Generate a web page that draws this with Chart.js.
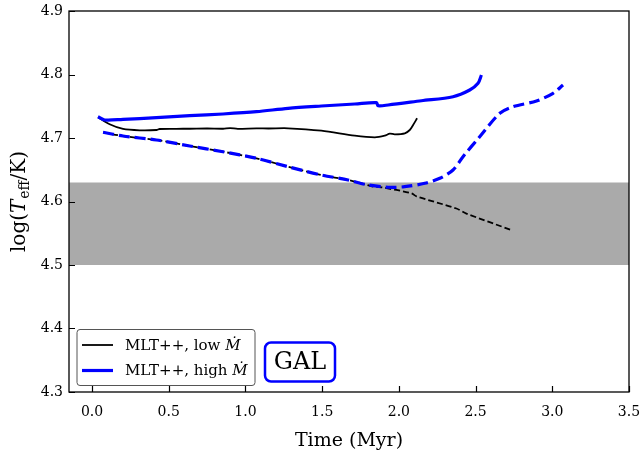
<!DOCTYPE html>
<html>
<head>
<meta charset="utf-8">
<script src="https://cdn.jsdelivr.net/npm/chart.js@4/dist/chart.umd.min.js"></script>
<style>
  html, body { margin: 0; padding: 0; background: #fff; }
  #wrap { width: 641px; height: 454px; position: relative; }
</style>
</head>
<body>
<div id="wrap"><canvas id="c" width="641" height="454"></canvas></div>
<script>
// ---- Data ----
const xTicks = [0.0, 0.5, 1.0, 1.5, 2.0, 2.5, 3.0, 3.5];
const yTicks = [4.3, 4.4, 4.5, 4.6, 4.7, 4.8, 4.9];
const xRange = [-0.15, 3.5];
const yRange = [4.3, 4.9];
const bandRange = [4.5, 4.63];

// MLT++, low Mdot (solid black)
const lowTime = [0.039, 0.115, 0.202, 0.311, 0.42, 0.441, 0.55, 0.637, 0.75, 0.854, 0.9, 0.95, 1.072, 1.15, 1.278, 1.495, 1.713, 1.843, 1.908, 1.941, 1.973, 2.039, 2.071, 2.093, 2.119];
const lowLogT = [4.7326, 4.7216, 4.7142, 4.7121, 4.7126, 4.7142, 4.7145, 4.7146, 4.7150, 4.7146, 4.7156, 4.7145, 4.7153, 4.7150, 4.7153, 4.7115, 4.7036, 4.7011, 4.7036, 4.7068, 4.7058, 4.7074, 4.7126, 4.7205, 4.731];

// MLT++, high Mdot (solid blue)
const highTime = [0.039, 0.083, 0.202, 0.42, 0.637, 0.854, 1.072, 1.278, 1.495, 1.713, 1.854, 1.864, 1.93, 2.147, 2.353, 2.462, 2.516, 2.538];
const highLogT = [4.7335, 4.7283, 4.7294, 4.7320, 4.7351, 4.7378, 4.7414, 4.7468, 4.7504, 4.7535, 4.7556, 4.7509, 4.7520, 4.7587, 4.7650, 4.7756, 4.7861, 4.7992];

// low Mdot, dashed black
const lowDashTime = [0.072, 0.202, 0.42, 0.637, 0.854, 1.072, 1.278, 1.495, 1.669, 1.778, 1.832, 1.887, 2.082, 2.115, 2.375, 2.44, 2.734];
const lowDashLogT = [4.7090, 4.7031, 4.6969, 4.6874, 4.6784, 4.6680, 4.6548, 4.6417, 4.6339, 4.6271, 4.6235, 4.6224, 4.6129, 4.608, 4.589, 4.581, 4.555];

// high Mdot, dashed blue
const highDashTime = [0.072, 0.202, 0.42, 0.637, 0.854, 1.072, 1.278, 1.495, 1.669, 1.778, 1.93, 2.038, 2.169, 2.267, 2.353, 2.418, 2.527, 2.658, 2.745, 2.897, 3.005, 3.07];
const highDashLogT = [4.7090, 4.7031, 4.6969, 4.6874, 4.6784, 4.6680, 4.6548, 4.6417, 4.6339, 4.6271, 4.6224, 4.6233, 4.6287, 4.6365, 4.6496, 4.6706, 4.7020, 4.7389, 4.7493, 4.7583, 4.7704, 4.7835];

const legendLabels = ['MLT++, low ', 'MLT++, high '];
const boxLabel = 'GAL';

const BLUE = '#0000ff';
const FONT = "'DejaVu Serif', 'Liberation Serif', serif";

function pts(xs, ys) { return xs.map((x, i) => ({ x: x, y: ys[i] })); }

Chart.defaults.font.family = FONT;
Chart.defaults.color = '#000';

const overlay = {
  id: 'overlay',
  afterDraw(chart) {
    const ctx = chart.ctx;
    const a = chart.chartArea;
    const xs = chart.scales.x, ys = chart.scales.y;
    ctx.save();
    // frame
    ctx.strokeStyle = '#000';
    ctx.lineWidth = 1.3;
    ctx.strokeRect(a.left, a.top, a.right - a.left, a.bottom - a.top);
    // inward ticks
    ctx.lineWidth = 1.2;
    ctx.beginPath();
    xTicks.forEach(v => {
      const px = Math.round(xs.getPixelForValue(v)) + 0.5;
      ctx.moveTo(px, a.bottom); ctx.lineTo(px, a.bottom - 6);
    });
    yTicks.forEach(v => {
      const py = Math.round(ys.getPixelForValue(v)) + 0.5;
      ctx.moveTo(a.left, py); ctx.lineTo(a.left + 6, py);
    });
    ctx.stroke();

    // x title
    ctx.fillStyle = '#000';
    ctx.font = '19px ' + FONT;
    ctx.textAlign = 'center';
    ctx.textBaseline = 'alphabetic';
    ctx.fillText('Time (Myr)', (a.left + a.right) / 2, 446);

    // y title: log(T_eff/K)
    ctx.save();
    ctx.translate(25, (a.top + a.bottom) / 2);
    ctx.rotate(-Math.PI / 2);
    const fN = '20px ' + FONT, fI = 'italic 20px ' + FONT, fS = '14px ' + FONT;
    const parts = [['log(', fN, 0], ['T', fI, 0], ['eff', fS, 4], ['/K)', fN, 0]];
    let total = 0;
    parts.forEach(p => { ctx.font = p[1]; total += ctx.measureText(p[0]).width; });
    total += 1;
    let cx = -total / 2;
    ctx.textAlign = 'left';
    parts.forEach((p, i) => {
      ctx.font = p[1];
      ctx.fillText(p[0], cx, p[2]);
      cx += ctx.measureText(p[0]).width + (i === 1 ? 1 : 0);
    });
    ctx.restore();

    // legend box
    function rrect(x, y, w, h, r) {
      ctx.beginPath();
      ctx.moveTo(x + r, y);
      ctx.arcTo(x + w, y, x + w, y + h, r);
      ctx.arcTo(x + w, y + h, x, y + h, r);
      ctx.arcTo(x, y + h, x, y, r);
      ctx.arcTo(x, y, x + w, y, r);
      ctx.closePath();
    }
    rrect(77, 329.5, 178, 56, 3);
    ctx.fillStyle = 'rgba(255,255,255,0.8)';
    ctx.fill();
    ctx.strokeStyle = '#555';
    ctx.lineWidth = 1;
    ctx.stroke();
    const rows = [[345, '#000', 1.8], [370.5, BLUE, 3.2]];
    rows.forEach((r, i) => {
      ctx.strokeStyle = r[1];
      ctx.lineWidth = r[2];
      ctx.beginPath();
      ctx.moveTo(82, r[0]); ctx.lineTo(113, r[0]);
      ctx.stroke();
      ctx.fillStyle = '#000';
      ctx.font = '15px ' + FONT;
      ctx.textAlign = 'left';
      ctx.textBaseline = 'middle';
      ctx.fillText(legendLabels[i], 125, r[0] + 1);
      const w = ctx.measureText(legendLabels[i]).width;
      ctx.font = 'italic 15px ' + FONT;
      ctx.fillText('\u1E40', 125 + w, r[0] + 1);
    });

    // GAL box
    rrect(265, 342.5, 70, 39, 6);
    ctx.fillStyle = '#fff';
    ctx.fill();
    ctx.strokeStyle = BLUE;
    ctx.lineWidth = 2.5;
    ctx.stroke();
    ctx.fillStyle = '#000';
    ctx.font = '24px ' + FONT;
    ctx.textAlign = 'center';
    ctx.textBaseline = 'middle';
    ctx.fillText(boxLabel, 300, 362.5);
    ctx.restore();
  }
};

new Chart(document.getElementById('c'), {
  type: 'line',
  data: {
    datasets: [
      {
        label: 'band',
        data: pts(xRange, [bandRange[1], bandRange[1]]),
        borderWidth: 0,
        pointRadius: 0,
        backgroundColor: '#aaaaaa',
        fill: { value: bandRange[0] },
        order: 10
      },
      {
        label: 'low dashed',
        data: pts(lowDashTime, lowDashLogT),
        borderColor: '#000', borderWidth: 1.8, borderDash: [6, 3],
        pointRadius: 0, fill: false, tension: 0.3, order: 3
      },
      {
        label: 'MLT++, low Mdot',
        data: pts(lowTime, lowLogT),
        borderColor: '#000', borderWidth: 1.8,
        pointRadius: 0, fill: false, tension: 0.3, order: 3
      },
      {
        label: 'high dashed',
        data: pts(highDashTime, highDashLogT),
        borderColor: BLUE, borderWidth: 3.2, borderDash: [11, 5],
        pointRadius: 0, fill: false, tension: 0.3, order: 1
      },
      {
        label: 'MLT++, high Mdot',
        data: pts(highTime, highLogT),
        borderColor: BLUE, borderWidth: 3.2,
        pointRadius: 0, fill: false, tension: 0.3, order: 1
      }
    ]
  },
  options: {
    responsive: false,
    animation: false,
    layout: { padding: { top: 11, right: 12, left: 0, bottom: 0 } },
    plugins: { legend: { display: false }, tooltip: { enabled: false } },
    scales: {
      x: {
        type: 'linear', min: xRange[0], max: xRange[1],
        afterBuildTicks: s => { s.ticks = xTicks.map(v => ({ value: v })); },
        afterFit: s => { s.height = 62; s.paddingLeft = 0; s.paddingRight = 0; },
        grid: { display: false, drawTicks: false },
        border: { display: false },
        ticks: { padding: 12, font: { size: 14 }, color: '#000', maxRotation: 0, autoSkip: false,
                 callback: v => Number(v).toFixed(1) }
      },
      y: {
        type: 'linear', min: yRange[0], max: yRange[1],
        afterBuildTicks: s => { s.ticks = yTicks.map(v => ({ value: v })); },
        afterFit: s => { s.width = 69; s.paddingTop = 0; s.paddingBottom = 0; },
        grid: { display: false, drawTicks: false },
        border: { display: false },
        ticks: { padding: 6, font: { size: 14 }, color: '#000', autoSkip: false,
                 callback: v => Number(v).toFixed(1) }
      }
    }
  },
  plugins: [overlay]
});
</script>
</body>
</html>
